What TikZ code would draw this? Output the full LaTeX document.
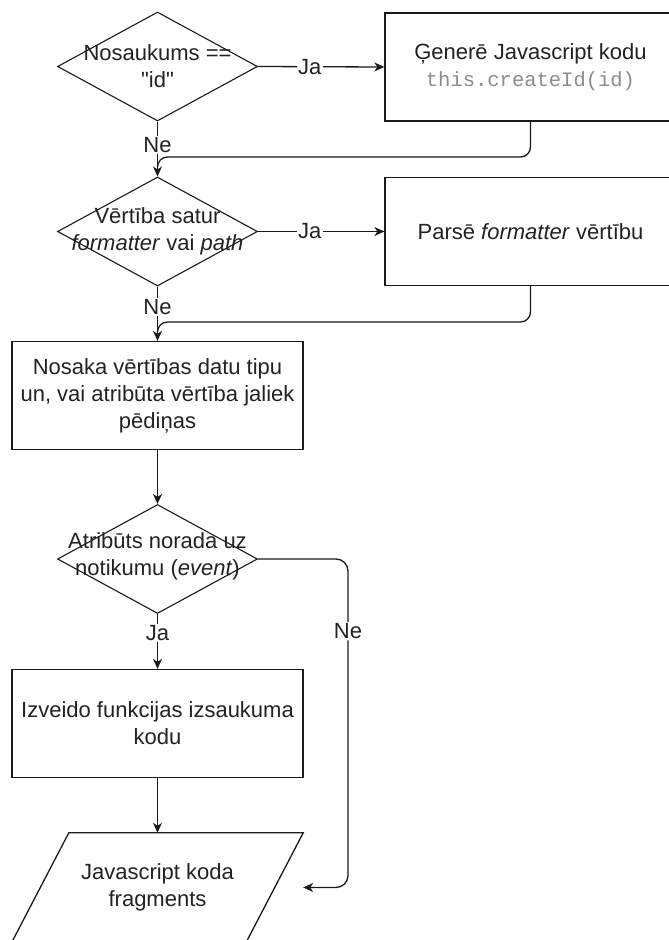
\documentclass[tikz,border=0pt]{standalone}
\usepackage{fontspec}
\setmainfont{Liberation Sans}[Ligatures=TeXOff]
\setmonofont{Liberation Mono}[Ligatures=TeXOff]
\usetikzlibrary{shapes.geometric,arrows.meta,calc}
\definecolor{ink}{HTML}{1A1A1A}
\definecolor{txt}{HTML}{222222}
\definecolor{codegray}{HTML}{8C8C8C}
\begin{document}
\begin{tikzpicture}[x=1pt,y=-1pt,
  every node/.style={font=\fontsize{22}{27}\selectfont, text=txt},
  line/.style={draw=ink, line width=1.3pt},
  arr/.style={line, -{Stealth[length=10pt,width=9pt,inset=3pt]}},
  decision/.style={diamond, draw=ink, line width=1.1pt, minimum width=200pt, minimum height=109pt, inner sep=0pt, aspect=1.835},
  procbox/.style={rectangle, draw=ink, line width=1.3pt, minimum width=291pt, minimum height=108pt, align=center, inner sep=0pt},
  dtext/.style={align=center, inner sep=0pt},
  lbl/.style={fill=white, inner sep=1.5pt}
]
\useasboundingbox (0,0) rectangle (669,940);
\clip (0,0) rectangle (669,940);

% decisions
\node[decision] (d1) at (157.5,66.5) {};
\node[dtext] (d1t) at (d1.center) {Nosaukums ==\\"id"};
\node[decision] (d2) at (157.5,231.5) {};
\node[dtext] (d2t) at (d2.center) {Vērtība satur\\\textit{formatter} vai \textit{path}};
\node[decision] (d3) at (157.5,559) {};
\node[dtext] (d3t) at ($(d3.center)+(0,-3)$) {Atribūts norada uz\\notikumu (\textit{event})};

% process boxes
\node[procbox] (b1) at (530.5,67) {Ģenerē Javascript kodu\\{\ttfamily\fontsize{20.5}{27}\selectfont\color{codegray}this.createId(id)}};
\node[procbox] (b2) at (530.5,231.5) {Parsē \textit{formatter} vērtību};
\node[procbox] (b3) at (157.5,395.5) {Nosaka vērtības datu tipu\\un, vai atribūta vērtība jaliek\\pēdiņas};
\node[procbox] (b4) at (157.5,723.5) {Izveido funkcijas izsaukuma\\kodu};

% data (parallelogram)
\node[minimum width=291pt, minimum height=109pt, inner sep=0pt, align=center] (para) at (157.5,887.5) {Javascript koda\\fragments};
\draw[line] ([xshift=57pt]para.north west) -- (para.north east) -- ([xshift=-57pt]para.south east) -- (para.south west) -- cycle;

% helper coordinates
\coordinate (j1) at (157.5,157);
\coordinate (j2) at (157.5,322);
\coordinate (n1) at (348,559);
\coordinate (n2) at (n1 |- para.east);

% connectors
\draw[arr] (d1.east) -- node[lbl, pos=0.41] {Ja} (b1.west);
\draw[arr] (d1.south) -- node[lbl, pos=0.43] {Ne} (d2.north);
\draw[line, rounded corners=10pt] (b1.south) |- (j1) -- ++(0,8);

\draw[arr] (d2.east) -- node[lbl, pos=0.41] {Ja} (b2.west);
\draw[arr] (d2.south) -- node[lbl, pos=0.38] {Ne} (b3.north);
\draw[line, rounded corners=10pt] (b2.south) |- (j2) -- ++(0,8);

\draw[arr] (b3.south) -- (d3.north);
\draw[arr] (d3.south) -- node[lbl, pos=0.34] {Ja} (b4.north);
\draw[arr, rounded corners=12pt] (d3.east) -- (n1) -- node[lbl, pos=0.22] {Ne} (n2) -- (para.east);
\draw[arr] (b4.south) -- (para.north);
\end{tikzpicture}
\end{document}
